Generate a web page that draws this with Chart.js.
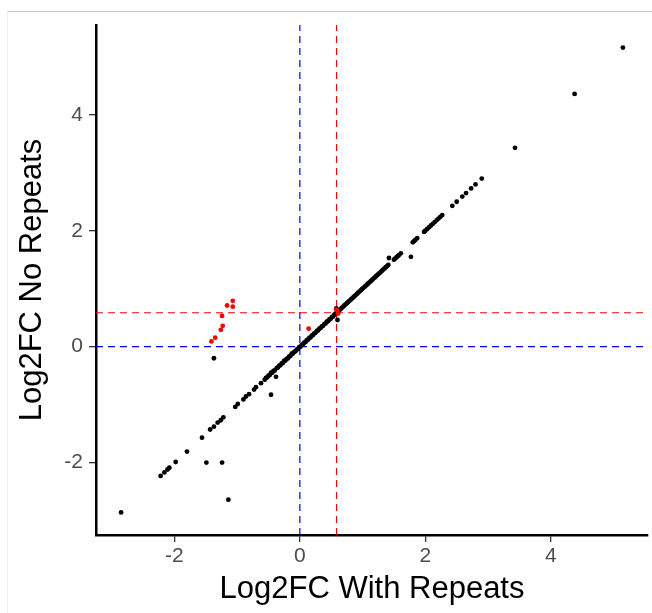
<!DOCTYPE html>
<html>
<head>
<meta charset="utf-8">
<script src="https://cdn.jsdelivr.net/npm/chart.js@4.4.1/dist/chart.umd.min.js"></script>
<style>
  html, body { margin:0; padding:0; background:#fff; }
  #wrap { position:relative; width:652px; height:613px; }
  #frame { position:absolute; left:7px; top:11px; right:0; bottom:0;
           border-top:1px solid #c8c8c8; border-left:1px solid #f0f0f0; }
  #chart { position:absolute; left:0; top:0; }
</style>
</head>
<body>
<div id="wrap">
  <div id="frame"></div>
  <canvas id="chart" width="652" height="613"></canvas>
</div>
<script>
// log2FC avec / sans repeats
const blackX = [
  -2.85, -2.22, -2.16, -2.11, -2.08, -1.98, -1.80, -1.56, -1.49, -1.24, -1.14,
  -1.43, -1.37, -1.31, -1.26, -1.22, -1.37,
  -1.03, -0.99, -0.90, -0.86, -0.81, -0.73, -0.70, -0.62, -0.46, -0.38,
  -0.56, -0.54, -0.52, -0.50, -0.48, -0.46, -0.44, -0.42, -0.40, -0.37,
  -0.35, -0.33, -0.31, -0.29, -0.27, -0.25, -0.23, -0.21, -0.19, -0.17,
  -0.15, -0.13, -0.11, -0.09, -0.07, -0.05, -0.03, -0.01, 0.01, 0.03,
  0.05, 0.07, 0.09, 0.11, 0.13, 0.15, 0.17, 0.19, 0.21, 0.23,
  0.25, 0.27, 0.29, 0.31, 0.33, 0.35, 0.37, 0.39, 0.41, 0.43,
  0.45, 0.47, 0.49, 0.51, 0.53, 0.55, 0.57, 0.59, 0.61, 0.63,
  0.65, 0.67, 0.69, 0.71, 0.73, 0.75, 0.77, 0.79, 0.81, 0.83,
  0.85, 0.87, 0.89, 0.91, 0.93, 0.95, 0.97, 0.99, 1.01, 1.03,
  1.05, 1.07, 1.09, 1.11, 1.13, 1.15, 1.17, 1.19, 1.21, 1.23,
  1.25, 1.27, 1.29, 1.31, 1.33, 1.35, 1.37, 1.39, 1.41, 0.60, 0.58,
  1.42, 1.50, 1.52, 1.54, 1.56, 1.58, 1.61, 1.77, 1.80, 1.82, 1.84, 1.87,
  1.98, 2.00, 2.03, 2.06, 2.09, 2.12, 2.15, 2.18, 2.21, 2.24, 2.27,
  2.43, 2.50, 2.59, 2.65, 2.73, 2.80, 2.90, 3.43, 4.38, 5.15
];
const blackY = [
  -2.86, -2.23, -2.17, -2.12, -2.09, -1.99, -1.81, -1.57, -2.00, -2.00, -2.64,
  -1.43, -1.38, -1.31, -1.27, -1.22, -0.20,
  -1.04, -0.99, -0.91, -0.86, -0.82, -0.74, -0.70, -0.63, -0.83, -0.52,
  -0.57, -0.54, -0.53, -0.50, -0.49, -0.45, -0.45, -0.42, -0.41, -0.37,
  -0.36, -0.33, -0.32, -0.29, -0.28, -0.24, -0.24, -0.21, -0.20, -0.17,
  -0.16, -0.12, -0.12, -0.09, -0.08, -0.05, -0.04, -0.01, 0.00, 0.03,
  0.04, 0.07, 0.08, 0.11, 0.12, 0.15, 0.16, 0.19, 0.20, 0.23,
  0.24, 0.27, 0.28, 0.31, 0.32, 0.35, 0.36, 0.39, 0.40, 0.43,
  0.44, 0.47, 0.48, 0.51, 0.52, 0.55, 0.57, 0.59, 0.62, 0.63,
  0.65, 0.67, 0.69, 0.71, 0.73, 0.75, 0.77, 0.79, 0.81, 0.83,
  0.85, 0.87, 0.89, 0.91, 0.93, 0.95, 0.97, 0.99, 1.01, 1.03,
  1.05, 1.07, 1.09, 1.11, 1.13, 1.15, 1.17, 1.19, 1.21, 1.23,
  1.25, 1.27, 1.29, 1.31, 1.33, 1.35, 1.37, 1.39, 1.41, 0.46, 0.66,
  1.53, 1.50, 1.52, 1.54, 1.56, 1.58, 1.61, 1.55, 1.80, 1.82, 1.84, 1.87,
  1.98, 2.00, 2.03, 2.06, 2.09, 2.12, 2.15, 2.18, 2.21, 2.24, 2.27,
  2.43, 2.50, 2.59, 2.65, 2.73, 2.80, 2.90, 3.43, 4.36, 5.16
];
const redX = [-1.41, -1.35, -1.26, -1.23, -1.24, -1.16, -1.07, -1.07, 0.14, 0.60, 0.61, 0.58];
const redY = [0.09, 0.155, 0.29, 0.36, 0.53, 0.71, 0.79, 0.69, 0.31, 0.62, 0.57, 0.64];

const xTicks = [-2, 0, 2, 4];
const yTicks = [-2, 0, 2, 4];
const xRange = [-3.25, 5.55];
const yRange = [-3.25, 5.55];
const cutoffZero = 0;
const cutoffFC = 0.585;   // log2(1.5)

function pts(xs, ys){ return xs.map((x,i)=>({x:x, y:ys[i]})); }

const dashed = (data, color) => ({
  data, showLine:true, borderColor:color, borderWidth:1.2,
  borderDash:[7,5], pointRadius:0, fill:false
});

new Chart(document.getElementById("chart"), {
  type: "scatter",
  data: {
    datasets: [
      { data: pts(redX, redY), backgroundColor:"#FF0000", borderWidth:0, pointRadius:2.4 },
      { data: pts(blackX, blackY), backgroundColor:"#000000", borderWidth:0, pointRadius:2.4 },
      dashed([{x:xRange[0], y:cutoffFC}, {x:xRange[1], y:cutoffFC}], "#FF0000"),
      dashed([{x:cutoffFC, y:yRange[0]}, {x:cutoffFC, y:yRange[1]}], "#FF0000"),
      dashed([{x:xRange[0], y:cutoffZero}, {x:xRange[1], y:cutoffZero}], "#0000FF"),
      dashed([{x:cutoffZero, y:yRange[0]}, {x:cutoffZero, y:yRange[1]}], "#0000FF"),
    ]
  },
  options: {
    responsive:false, animation:false, devicePixelRatio:1,
    layout:{ padding:{ top:25, right:4, left:0, bottom:0 } },
    plugins:{ legend:{display:false}, tooltip:{enabled:false} },
    scales:{
      x:{
        type:"linear", min:xRange[0], max:xRange[1],
        afterBuildTicks: s => { s.ticks = xTicks.map(v=>({value:v})); },
        afterFit: s => { s.height = 78; },
        grid:{ drawOnChartArea:false, drawTicks:true, tickLength:7, color:"#333", lineWidth:1.3 },
        border:{ display:true, color:"#000", width:2.5 },
        ticks:{ color:"#4d4d4d", font:{family:"Liberation Sans", size:21}, padding:2, maxRotation:0 },
        title:{ display:true, text:"Log2FC With Repeats", color:"#000",
                font:{family:"Liberation Sans", size:31}, padding:{top:0, bottom:5} }
      },
      y:{
        type:"linear", min:yRange[0], max:yRange[1],
        afterBuildTicks: s => { s.ticks = yTicks.map(v=>({value:v})); },
        afterFit: s => { s.width = 96; },
        grid:{ drawOnChartArea:false, drawTicks:true, tickLength:7, color:"#333", lineWidth:1.3 },
        border:{ display:true, color:"#000", width:2.5 },
        ticks:{ color:"#4d4d4d", font:{family:"Liberation Sans", size:21}, padding:6 },
        title:{ display:true, text:"Log2FC No Repeats", color:"#000",
                font:{family:"Liberation Sans", size:31}, padding:{top:14, bottom:0} }
      }
    }
  }
});
</script>
</body>
</html>
